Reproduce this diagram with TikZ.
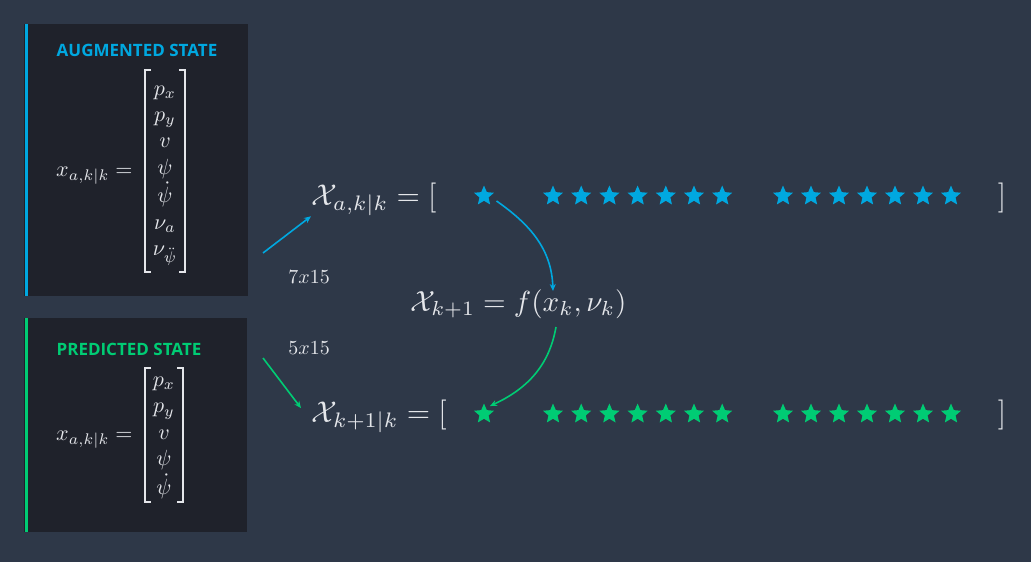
\documentclass[tikz,border=0pt]{standalone}
\usepackage{amsmath}
\usepackage{fontspec}
\newfontfamily\titlefont{Open Sans}
\usetikzlibrary{arrows.meta,shapes.geometric}
\definecolor{bgcol}{RGB}{46,56,72}
\definecolor{panelcol}{RGB}{31,34,43}
\definecolor{augblue}{RGB}{0,168,224}
\definecolor{predgreen}{RGB}{0,204,116}
\definecolor{txtcol}{RGB}{228,230,234}
% square brackets round a vector node: node, half width, half height
\newcommand{\vecbrackets}[3]{%
  \draw[brk] ([shift={(-#2+6pt,#3)}]#1.center) -- ++(-6pt,0) |- ([shift={(-#2+6pt,-#3)}]#1.center);
  \draw[brk] ([shift={(#2-6pt,#3)}]#1.center) -- ++(6pt,0) |- ([shift={(#2-6pt,-#3)}]#1.center);}
\begin{document}
\begin{tikzpicture}[x=1pt,y=1pt]
        \tikzset{
        panel/.style={fill=panelcol, draw=none},
        bar/.style={line width=3pt},
        ttl/.style={font=\titlefont\bfseries\fontsize{17}{20}\selectfont, inner sep=0},
        mat/.style={text=txtcol, inner sep=0, scale=2.2, transform shape},
        brk/.style={draw=txtcol, line width=1.3pt},
        bigm/.style={text=txtcol, inner sep=0, anchor=base west, scale=3, transform shape},
        dim/.style={text=txtcol, inner sep=0, anchor=base west, scale=2, transform shape},
        st/.style={star, star points=5, star point ratio=2.2, minimum size=21pt, inner sep=0, draw=none},
        c1/.style={-{Stealth[length=7pt,width=6pt]}, line width=1.6pt},
        }
        \fill[bgcol] (0,0) rectangle (1031,-562);
        \useasboundingbox (0,0) rectangle (1031,-562);

        % left panels
        \fill[panel] (24,-24) rectangle (248,-296);
        \draw[bar, augblue] (26.5,-24) -- (26.5,-296);
        \fill[panel] (24,-318) rectangle (247,-532);
        \draw[bar, predgreen] (26.5,-318) -- (26.5,-532);

        \node[ttl, text=augblue] (taug) at (137,-50) {AUGMENTED STATE};
        \node[ttl, text=predgreen] (tpred) at (129,-349) {PREDICTED STATE};

        \node[mat, anchor=base east] (laug) at (133,-176.5) {$x_{a,k|k} =$};
        \node[mat] (vaug) at (165,-171) {$\begin{array}{@{}c@{}} p_x\\ p_y\\ v\\ \psi\\ \dot{\psi}\\ \nu_a\\ \nu_{\ddot{\psi}} \end{array}$};
        \vecbrackets{vaug}{20pt}{101pt}
        \node[mat, anchor=base east] (lpred) at (133,-440.5) {$x_{a,k|k} =$};
        \node[mat] (vpred) at (164,-435) {$\begin{array}{@{}c@{}} p_x\\ p_y\\ v\\ \psi\\ \dot{\psi} \end{array}$};
        \vecbrackets{vpred}{19pt}{67pt}

        % sigma point rows
        \node[bigm] (xa) at (311,-205) {$\mathcal{X}_{a,k|k} = [$};
        \node[bigm] (xp) at (311,-422) {$\mathcal{X}_{k+1|k} = [$};
        \node[bigm, scale=0.97] (fx) at (410,-311) {$\mathcal{X}_{k+1} = f(x_k,\nu_k)$};
        \node[bigm, anchor=base] (ca) at (1002,-205) {$]$};
        \node[bigm, anchor=base] (cp) at (1002,-422) {$]$};

        \node[dim] (da) at (288,-283) {$7x15$};
        \node[dim] (dp) at (288,-354) {$5x15$};

        \node[st, fill=augblue] (sa0) at (484,-196) {};
        \node[st, fill=predgreen] (sp0) at (484,-414) {};
        \foreach \i in {0,...,6} {
          \node[st, fill=augblue] (sa1\i) at (553+28.2*\i,-196) {};
          \node[st, fill=augblue] (sa2\i) at (783+28*\i,-196) {};
          \node[st, fill=predgreen] (sp1\i) at (553+28.2*\i,-414) {};
          \node[st, fill=predgreen] (sp2\i) at (783+28*\i,-414) {};
        }

        \coordinate (oa) at (263,-253);
        \coordinate (op) at (263,-358);
        \coordinate (fin) at (553,-291);
        \coordinate (fout) at (556,-327);

        \draw[c1, augblue] (oa) -- (xa.south west);
        \draw[c1, predgreen] (op) -- ([xshift=-10pt,yshift=8pt]xp.west);
        \draw[c1, augblue] ([xshift=6pt,yshift=-5pt]sa0.east) to[out=-35,in=92] (fin);
        \draw[c1, predgreen] (fout) to[out=-100,in=25] ([xshift=2pt,yshift=4pt]sp0.north east);
        \end{tikzpicture}
\end{document}
